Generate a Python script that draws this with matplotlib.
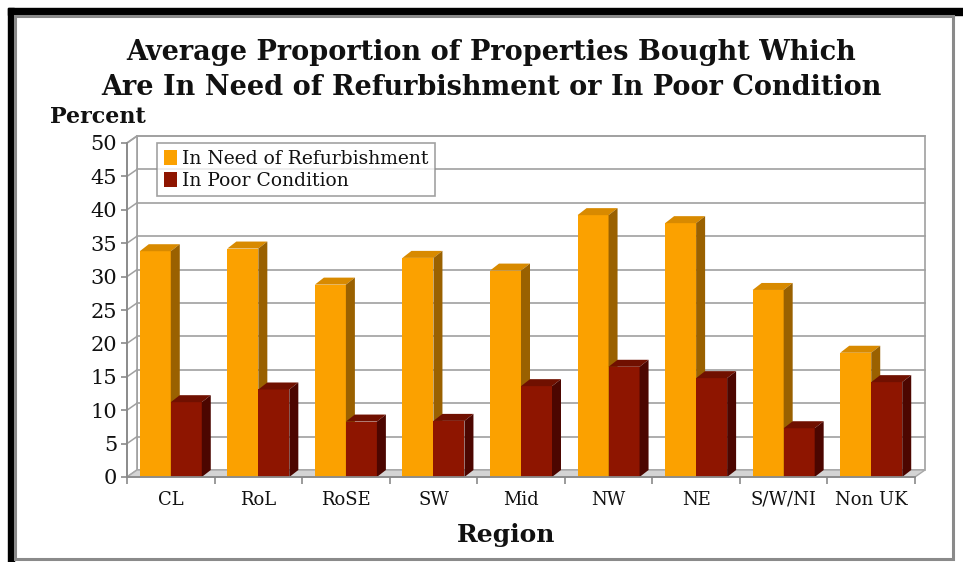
import matplotlib
matplotlib.use("Agg")
import matplotlib.pyplot as plt
from matplotlib.patches import Polygon, Rectangle, Patch
import numpy as np

# ---- data ----
regions = ["CL", "RoL", "RoSE", "SW", "Mid", "NW", "NE", "S/W/NI", "Non UK"]
refurbishment = [33.8, 34.2, 28.8, 32.8, 30.9, 39.2, 38.0, 28.0, 18.6]
poor_condition = [11.2, 13.1, 8.3, 8.4, 13.6, 16.5, 14.8, 7.3, 14.2]
series_names = ["In Need of Refurbishment", "In Poor Condition"]
y_ticks = list(range(0, 51, 5))

title = "Average Proportion of Properties Bought Which\nAre In Need of Refurbishment or In Poor Condition"
y_label = "Percent"
x_label = "Region"

# ---- styling ----
W, H = 963, 562
SERIF = ["DejaVu Serif"]
TXT = "#111111"
orange = dict(front="#FBA100", top="#D88A00", side="#9A6100")
red = dict(front="#8E1500", top="#701000", side="#4C0600")

fig = plt.figure(figsize=(W / 100, H / 100), dpi=100)
fig.patch.set_facecolor("white")

# outer frame
fig.patches.append(Rectangle((8 / W, 1 - 15 / H), (W - 8) / W, 7 / H,
                             transform=fig.transFigure, color="black", zorder=0))
fig.patches.append(Rectangle((8 / W, 0), 6 / W, 1 - 8 / H,
                             transform=fig.transFigure, color="black", zorder=0))
fig.patches.append(Rectangle((15 / W, 3 / H), (953 - 15) / W, (559 - 16) / H,
                             transform=fig.transFigure, fill=False,
                             edgecolor="#8a8a8a", lw=2.2, zorder=0))

# plot area (front plane)
x0_px, x1_px, y0_px, y50_px = 127, 915, 477, 143
ax = fig.add_axes([x0_px / W, 1 - y0_px / H, (x1_px - x0_px) / W, (y0_px - y50_px) / H])
ax.set_facecolor("none")
n = len(regions)
xmin, xmax = -0.5, n - 0.5
ax.set_xlim(xmin, xmax)
ax.set_ylim(0, 50)

# depth offsets in data units
px_x = (x1_px - x0_px) / n
px_y = (y0_px - y50_px) / 50
wall_dx, wall_dy = 10 / px_x, 7 / px_y
bar_dx, bar_dy = 9 / px_x, 7 / px_y

grid_c = "#a0a0a0"
# back wall
ax.add_patch(Rectangle((xmin + wall_dx, wall_dy), xmax - xmin, 50, facecolor="white",
                       edgecolor=grid_c, lw=1.2, clip_on=False, zorder=1))
# left side wall
ax.add_patch(Polygon([(xmin, 0), (xmin + wall_dx, wall_dy), (xmin + wall_dx, 50 + wall_dy), (xmin, 50)],
                     closed=True, facecolor="white", edgecolor=grid_c, lw=1.2, clip_on=False, zorder=1))
# floor
ax.add_patch(Polygon([(xmin, 0), (xmax, 0), (xmax + wall_dx, wall_dy), (xmin + wall_dx, wall_dy)],
                     closed=True, facecolor="#d4d4d4", edgecolor="#a8a8a8", lw=1.0, clip_on=False, zorder=1))
# gridlines on walls
for v in y_ticks[1:]:
    ax.plot([xmin + wall_dx, xmax + wall_dx], [v + wall_dy, v + wall_dy],
            color=grid_c, lw=1.2, clip_on=False, zorder=1.5)
    ax.plot([xmin, xmin + wall_dx], [v, v + wall_dy], color=grid_c, lw=1.1, clip_on=False, zorder=1.5)

# bars with 3D faces
x = np.arange(n)
bw = 31 / px_x


def bar3d(xl, v, col, z):
    ax.bar(xl, v, width=bw, align="edge", color=col["front"], zorder=z, clip_on=False)
    ax.add_patch(Polygon([(xl, v), (xl + bw, v), (xl + bw + bar_dx, v + bar_dy), (xl + bar_dx, v + bar_dy)],
                         closed=True, facecolor=col["top"], edgecolor="none", clip_on=False, zorder=z))
    ax.add_patch(Polygon([(xl + bw, 0), (xl + bw + bar_dx, bar_dy), (xl + bw + bar_dx, v + bar_dy), (xl + bw, v)],
                         closed=True, facecolor=col["side"], edgecolor="none", clip_on=False, zorder=z))


for i in range(n):
    bar3d(x[i] - bw, refurbishment[i], orange, 3 + i * 0.01)
    bar3d(x[i], poor_condition[i], red, 3.005 + i * 0.01)

# axes lines and ticks
for s in ["top", "right"]:
    ax.spines[s].set_visible(False)
for s in ["left", "bottom"]:
    ax.spines[s].set_color("#8a8a8a")
    ax.spines[s].set_linewidth(1.3)
    ax.spines[s].set_zorder(5)
ax.set_yticks(y_ticks)
ax.set_yticklabels([str(v) for v in y_ticks], fontsize=15, family=SERIF, color=TXT)
ax.tick_params(axis="y", length=4, width=1.2, color="#8a8a8a", pad=3)
ax.set_xticks(x)
ax.set_xticklabels(regions, fontsize=13, family=SERIF, color=TXT)
ax.tick_params(axis="x", length=0, pad=10)
ax.set_xticks(np.arange(xmin, xmax + 0.01, 1), minor=True)
ax.tick_params(axis="x", which="minor", length=5, width=1.2, color="#8a8a8a")

# titles and labels
fig.text(0.51, 1 - 70 / H, title, ha="center", va="center", fontsize=19.5, fontweight="bold",
         family=SERIF, color=TXT, linespacing=1.4)
fig.text(50 / W, 1 - 117 / H, y_label, ha="left", va="center", fontsize=16, fontweight="bold",
         family=SERIF, color=TXT)
fig.text(506 / W, 1 - 535 / H, x_label, ha="center", va="center", fontsize=18, fontweight="bold",
         family=SERIF, color=TXT)

# legend
handles = [Patch(facecolor=orange["front"], edgecolor="none"),
           Patch(facecolor=red["front"], edgecolor="none")]
leg = ax.legend(handles, series_names, loc="upper left", bbox_to_anchor=(157 / W, 1 - 143 / H),
                bbox_transform=fig.transFigure, borderaxespad=0, frameon=True, fancybox=False,
                prop={"family": SERIF, "size": 13.5}, handlelength=0.7, handleheight=0.9,
                handletextpad=0.3, labelspacing=0.2, borderpad=0.35)
leg.get_frame().set_edgecolor("#8a8a8a")
leg.get_frame().set_linewidth(1.2)
leg.set_zorder(6)
for t in leg.get_texts():
    t.set_color(TXT)

fig.savefig("out.png", dpi=100, facecolor="white")
